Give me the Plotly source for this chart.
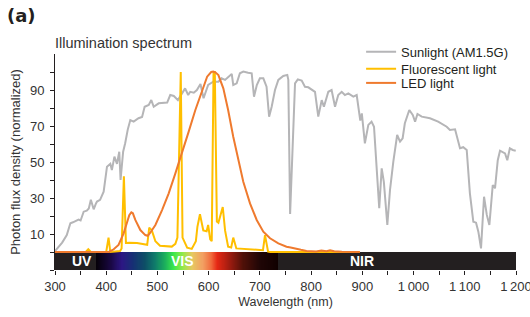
import numpy as np
import plotly.graph_objects as go

# ---------------- data ----------------
sun_wl = [300, 305, 314, 323, 330, 335, 340, 346, 350, 356, 362, 366, 370, 375.5, 380, 382, 388, 395,
          401.5, 408, 411, 416, 421, 425.5, 428, 433, 437, 442, 447, 453.6, 463, 470, 475, 483, 488,
          492.7, 502.5, 519, 525, 532, 540, 548, 554, 560, 564, 571, 577, 584, 590, 599, 609, 619,
          625, 632, 638, 645, 648, 654.7, 661, 667.6, 677, 684, 688.5, 694, 700, 706.7, 713, 718,
          723, 729.5, 736, 745.7, 753.5, 755.5, 759, 765, 768.6, 774, 781.6, 788, 794.5, 807.6, 814,
          820.7, 825, 833.6, 840, 846.7, 853, 859.7, 866, 872.6, 882.4, 889, 893, 896, 899, 905,
          911.7, 918, 922.8, 933, 937.8, 942, 948.8, 954, 960.5, 968, 973.6, 978.7, 983, 991.7,
          998.4, 1003, 1007.6, 1016, 1032, 1048, 1064.7, 1071, 1081, 1090.7, 1097, 1103.8, 1110,
          1116.7, 1122, 1126.5, 1131.7, 1137.6, 1143, 1148, 1154.6, 1159, 1164.4, 1168.8, 1178.6,
          1183, 1188, 1193.6, 1199.5]
sun_val = [0.5, 2, 5.2, 9.4, 16, 16.5, 17, 18, 17.5, 22.4, 23, 24.2, 29, 23.7, 27, 28, 29, 33.5,
           47.4, 49, 45.5, 53, 49, 55.7, 40, 55.7, 60.4, 68, 73.3, 72.4, 74.3, 75, 80.7, 81.7, 84.4,
           80.7, 82.6, 83, 87.2, 86.7, 84.4, 88, 90.9, 87.2, 89, 88.5, 90, 93.3, 85.4, 92.8, 94.6,
           94.6, 96.5, 95.6, 97.4, 98.9, 92.8, 93.7, 99.3, 100.2, 99.6, 99.3, 86.3, 92.8, 96.5,
           96.5, 91.8, 75.2, 80.7, 90, 95.6, 97.8, 98.4, 95.6, 21.1, 69.6, 93.7, 95.9, 95.2, 91.8,
           91.5, 89, 75.2, 84.4, 80.7, 89, 90, 80.7, 87.2, 89, 87.2, 88.1, 86.3, 87.2, 80, 73, 77,
           60.4, 70.6, 72.4, 69.6, 24.3, 46.5, 39, 15, 34.4, 50.2, 65, 61.3, 63.2, 71.5, 78.9, 76.1,
           72.4, 76.7, 75.2, 74.3, 72.4, 69.6, 67.8, 68.2, 57.6, 58.2, 56.7, 32.6, 16.8, 16.3, 11.3,
           2, 30.7, 20.6, 15, 37.2, 35.4, 51, 56.3, 54.8, 51, 57.6, 56.7, 56.3]

fluo_wl = [300, 360, 365, 370, 400, 404.5, 408, 427, 430, 434.5, 438.5, 445, 460, 470, 480, 484,
           489, 496, 505, 528, 535, 539, 545.5, 549, 552, 558, 567, 575, 578, 583, 589.5, 596, 599,
           603, 606, 609.5, 612, 616, 619, 627.5, 632, 638, 644, 648, 654, 665, 681, 697, 706, 710,
           716, 720, 895]
fluo_val = [0, 0, 1.5, 0, 0, 8, 0, 0.5, 2, 42, 5, 5.2, 5, 4.5, 4, 13.5, 12, 6, 3.5, 3, 4.5, 8, 100,
            8, 6, 2.4, 1.7, 6, 14, 21, 12, 11.5, 15, 7, 6, 100, 100, 17, 16.3, 25, 12, 3, 2.5, 8,
            2, 1.8, 1.5, 1, 1, 9.4, 0.2, 0, 0]

led_wl = [300, 405, 414.6, 424, 434, 440.6, 445, 449, 452, 456.8, 466.6, 476.3, 481, 486, 496, 509,
          522, 535, 548, 561, 574, 587, 597, 605, 609, 613, 619, 628.6, 638, 648, 658, 667.6, 680.7,
          693.8, 706.7, 719.8, 736, 752, 760, 772, 780, 791, 800, 810, 820, 830, 837, 845, 860, 895]
led_val = [0, 0, 1.5, 3.9, 10.4, 16.8, 20.5, 22, 21.5, 17.8, 12.2, 9.4, 9, 10.7, 15, 23.3, 32.6,
           43.7, 54.8, 66.9, 78.9, 90, 97.4, 100, 100.2, 99.8, 98.3, 90.9, 78.9, 64, 51, 39, 27,
           17.8, 11.3, 7.6, 4.8, 2.9, 2.5, 1.5, 1.2, 0.6, 0.6, 0.3, 0.8, 0.4, 1, 0.4, 0.2, 0]

series_names = ["Sunlight (AM1.5G)", "Fluorescent light", "LED light"]
series_colors = ["#b5b5b7", "#ffbf00", "#ef7a2e"]

x_tick_vals = list(range(300, 1201, 50))
x_tick_text = ["300", "", "400", "", "500", "", "600", "", "700", "", "800", "", "900", "",
               "1\u2009000", "", "1\u2009100", "", "1\u2009200"]
y_tick_vals = list(range(-10, 101, 10))
y_tick_text = ["", "", "10", "", "30", "", "50", "", "70", "", "90", ""]

# spectral band (wavelength, colour)
band_stops = [(300, "#231f20"), (380, "#231f20"), (380.5, "#050008"), (410, "#1a0845"),
              (430, "#2c1684"), (452, "#162f74"), (475, "#0d4e66"), (495, "#0f7a6a"),
              (515, "#1cb15c"), (532, "#3be84a"), (550, "#98e84a"), (568, "#e6c860"),
              (588, "#f2a062"), (605, "#f06a3c"), (617, "#e62814"), (640, "#a01c10"),
              (668, "#4e1008"), (700, "#200606"), (735, "#100000"), (735.5, "#231f20"),
              (1200, "#231f20")]
band_labels = ["UV", "VIS", "NIR"]
band_label_x = [352, 549, 900]
band_bottom, band_top = -10, 0

FONT = "Liberation Sans, Arial, sans-serif"

fig = go.Figure()

# spectral band as a heatmap
edges = np.arange(300, 1201, 1)
centers = (edges[:-1] + edges[1:]) / 2
cs = [[(w - 300) / 900, c] for w, c in band_stops]
fig.add_trace(go.Heatmap(x=edges, y=[band_bottom, band_top], z=[centers], zmin=300, zmax=1200,
                         colorscale=cs, showscale=False, hoverinfo="skip", showlegend=False))

legend_ids = ["legend", "legend2", "legend3"]
for wl, val, name, col, lg in zip([sun_wl, fluo_wl, led_wl], [sun_val, fluo_val, led_val],
                                  series_names, series_colors, legend_ids):
    fig.add_trace(go.Scatter(x=wl, y=val, mode="lines", name=name, legend=lg,
                             line=dict(color=col, width=2), hoverinfo="skip"))

for lab, lx in zip(band_labels, band_label_x):
    fig.add_annotation(x=lx, y=(band_bottom + band_top) / 2, text=f"<b>{lab}</b>",
                       showarrow=False, font=dict(family=FONT, size=14, color="white"),
                       xanchor="center", yanchor="middle")

fig.add_annotation(xref="paper", yref="paper", x=-0.004, y=1.051, text="Illumination spectrum",
                   showarrow=False, xanchor="left", yanchor="middle",
                   font=dict(family=FONT, size=14.5, color="#333333"))
fig.add_annotation(xref="paper", yref="paper", x=-0.108, y=1.178, text="<b>(a)</b>",
                   showarrow=False, xanchor="left", yanchor="middle",
                   font=dict(family="DejaVu Sans, sans-serif", size=18, color="#231f20"))

legend_style = dict(x=0.664, xanchor="left", yanchor="middle", bgcolor="rgba(0,0,0,0)",
                    font=dict(family=FONT, size=13, color="#231f20"), itemwidth=30)
legend_y = [1.0106, 0.9319, 0.866]

fig.update_layout(
    width=530, height=317,
    margin=dict(l=55, r=14, t=54, b=47, autoexpand=False),
    paper_bgcolor="white", plot_bgcolor="white",
    font=dict(family=FONT, size=13, color="#333333"),
    showlegend=True,
    legend=dict(y=legend_y[0], **legend_style),
    legend2=dict(y=legend_y[1], **legend_style),
    legend3=dict(y=legend_y[2], **legend_style),
    xaxis=dict(range=[300, 1200], showgrid=False, zeroline=False, showline=False,
               automargin=False, ticklabeloverflow="allow",
               ticks="outside", ticklen=4, tickcolor="#231f20", tickwidth=1,
               tickvals=x_tick_vals, ticktext=x_tick_text,
               tickfont=dict(family=FONT, size=13, color="#333333"),
               title=dict(text="Wavelength (nm)", font=dict(family=FONT, size=12.5, color="#333333"),
                          standoff=4)),
    yaxis=dict(range=[-10, 110], showgrid=False, zeroline=False, showline=True,
               automargin=False, ticklabelstandoff=3,
               linecolor="#231f20", linewidth=1,
               ticks="outside", ticklen=4, tickcolor="#231f20", tickwidth=1,
               tickvals=y_tick_vals, ticktext=y_tick_text,
               tickfont=dict(family=FONT, size=13, color="#333333"),
               title=dict(text="Photon flux density (normalized)",
                          font=dict(family=FONT, size=13, color="#333333"), standoff=6)),
)

fig.write_html("out.html", config={"displayModeBar": False},
               post_script="document.body.style.margin='0px';")
